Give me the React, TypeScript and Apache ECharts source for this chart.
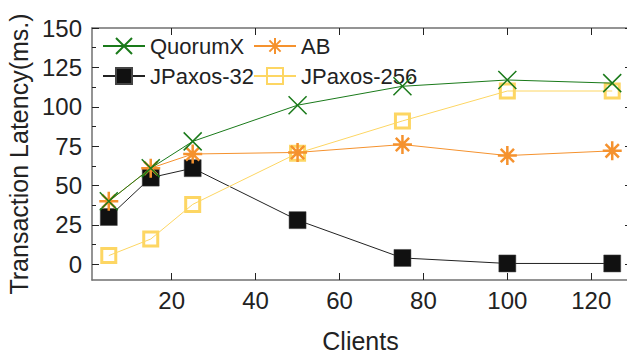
import React, { useEffect, useRef } from "react";
import * as echarts from "echarts";

const clients = [5, 15, 25, 50, 75, 100, 125];
const quorumX = [40, 61, 78, 101, 113, 117, 115];
const ab = [40, 61, 70, 71, 76, 69, 72];
const jpaxos32 = [30, 55, 61, 28, 4, 0.5, 0.5];
const jpaxos256 = [5.5, 16, 38, 70.5, 91, 110, 110];

const xTicks = [20, 40, 60, 80, 100, 120];
const yTicks = [0, 25, 50, 75, 100, 125, 150];
const yMinorTicks = [12.5, 37.5, 62.5, 87.5, 112.5, 137.5];

const FONT = "'Liberation Sans', Arial, sans-serif";
const AXIS_COLOR = "#707070";
const TICK_COLOR = "#222";

const X_PATH = "path://M0,0L10,10M10,0L0,10";
const STAR_PATH = "path://M5,0L5,10M0,5L10,5M1.5,1.5L8.5,8.5M8.5,1.5L1.5,8.5";

const pairs = (ys: number[]) => clients.map((c, i) => [c, ys[i]]);

export default function App() {
  const ref = useRef<HTMLDivElement>(null);
  useEffect(() => {
    if (!ref.current) return;
    const chart = echarts.init(ref.current, null, { renderer: "svg" });
    const X_MIN = 1;
    const X_MAX = 129;
    const Y_MIN = -10;
    const Y_MAX = 150;
    const baseX = {
      type: "value",
      min: X_MIN,
      max: X_MAX,
      splitLine: { show: false },
      axisLine: { show: true, onZero: false, lineStyle: { color: AXIS_COLOR, width: 1.5 } },
    };
    const baseY = {
      type: "value",
      min: Y_MIN,
      max: Y_MAX,
      splitLine: { show: false },
      axisLine: { show: true, onZero: false, lineStyle: { color: AXIS_COLOR, width: 1.5 } },
    };
    const legendBase = {
      orient: "vertical",
      top: 35,
      padding: 0,
      itemWidth: 42,
      itemHeight: 20,
      itemGap: 8,
      textStyle: { fontSize: 22, color: "#222", fontFamily: FONT },
    };
    chart.setOption({
      animation: false,
      backgroundColor: "#fff",
      textStyle: { fontFamily: FONT },
      grid: { left: 92, top: 28, width: 537, bottom: 77, outerBoundsMode: "none", containLabel: false },
      legend: [
        { ...legendBase, data: ["QuorumX", "JPaxos-32"], left: 102 },
        { ...legendBase, data: ["AB", "JPaxos-256"], left: 253 },
      ],
      xAxis: [
        {
          ...baseX,
          position: "bottom",
          name: "Clients",
          nameLocation: "middle",
          nameGap: 48,
          nameTextStyle: { fontSize: 25, color: "#222", fontFamily: FONT },
          axisTick: { show: true, inside: true, length: 7, customValues: xTicks, lineStyle: { color: TICK_COLOR } },
          axisLabel: { show: true, customValues: xTicks, fontSize: 24, color: "#222", margin: 8, fontFamily: FONT },
        },
        {
          ...baseX,
          position: "top",
          axisTick: { show: true, inside: true, length: 7, customValues: xTicks, lineStyle: { color: TICK_COLOR } },
          axisLabel: { show: false },
        },
      ],
      yAxis: [
        {
          ...baseY,
          position: "left",
          name: "Transaction Latency(ms.)",
          nameLocation: "middle",
          nameGap: 58,
          nameTextStyle: { fontSize: 25, color: "#222", fontFamily: FONT },
          axisTick: { show: true, inside: true, length: 7, customValues: yTicks, lineStyle: { color: TICK_COLOR } },
          axisLabel: { show: true, customValues: yTicks, fontSize: 24, color: "#222", margin: 10, fontFamily: FONT },
        },
        {
          ...baseY,
          position: "left",
          axisLine: { show: false },
          axisTick: { show: true, inside: true, length: 4, customValues: yMinorTicks, lineStyle: { color: TICK_COLOR } },
          axisLabel: { show: false },
        },
        {
          ...baseY,
          position: "right",
          axisTick: { show: true, inside: true, length: 4, customValues: yTicks, lineStyle: { color: TICK_COLOR } },
          axisLabel: { show: false },
        },
      ],
      series: [
        {
          name: "JPaxos-32",
          type: "line",
          data: pairs(jpaxos32),
          symbol: "rect",
          symbolSize: 17,
          lineStyle: { color: "#222", width: 1 },
          itemStyle: { color: "#111", borderColor: "#444", borderWidth: 0.5 },
          z: 2,
        },
        {
          name: "JPaxos-256",
          type: "line",
          data: pairs(jpaxos256),
          symbol: "rect",
          symbolSize: 14,
          lineStyle: { color: "#fdd663", width: 1 },
          itemStyle: { color: "rgba(0,0,0,0)", borderColor: "#fdd663", borderWidth: 3 },
          z: 3,
        },
        {
          name: "AB",
          type: "line",
          data: pairs(ab),
          symbol: STAR_PATH,
          symbolSize: 19,
          lineStyle: { color: "#f5922e", width: 1 },
          itemStyle: { color: "rgba(0,0,0,0)", borderColor: "#f5922e", borderWidth: 2.5 },
          z: 4,
        },
        {
          name: "QuorumX",
          type: "line",
          data: pairs(quorumX),
          symbol: X_PATH,
          symbolSize: 18,
          lineStyle: { color: "#1a7a1a", width: 1 },
          itemStyle: { color: "rgba(0,0,0,0)", borderColor: "#1a7a1a", borderWidth: 1.5 },
          z: 5,
        },
      ],
    });
    return () => chart.dispose();
  }, []);
  return <div ref={ref} style={{ width: 627, height: 357, position: "absolute", left: 0, top: 0 }} />;
}
